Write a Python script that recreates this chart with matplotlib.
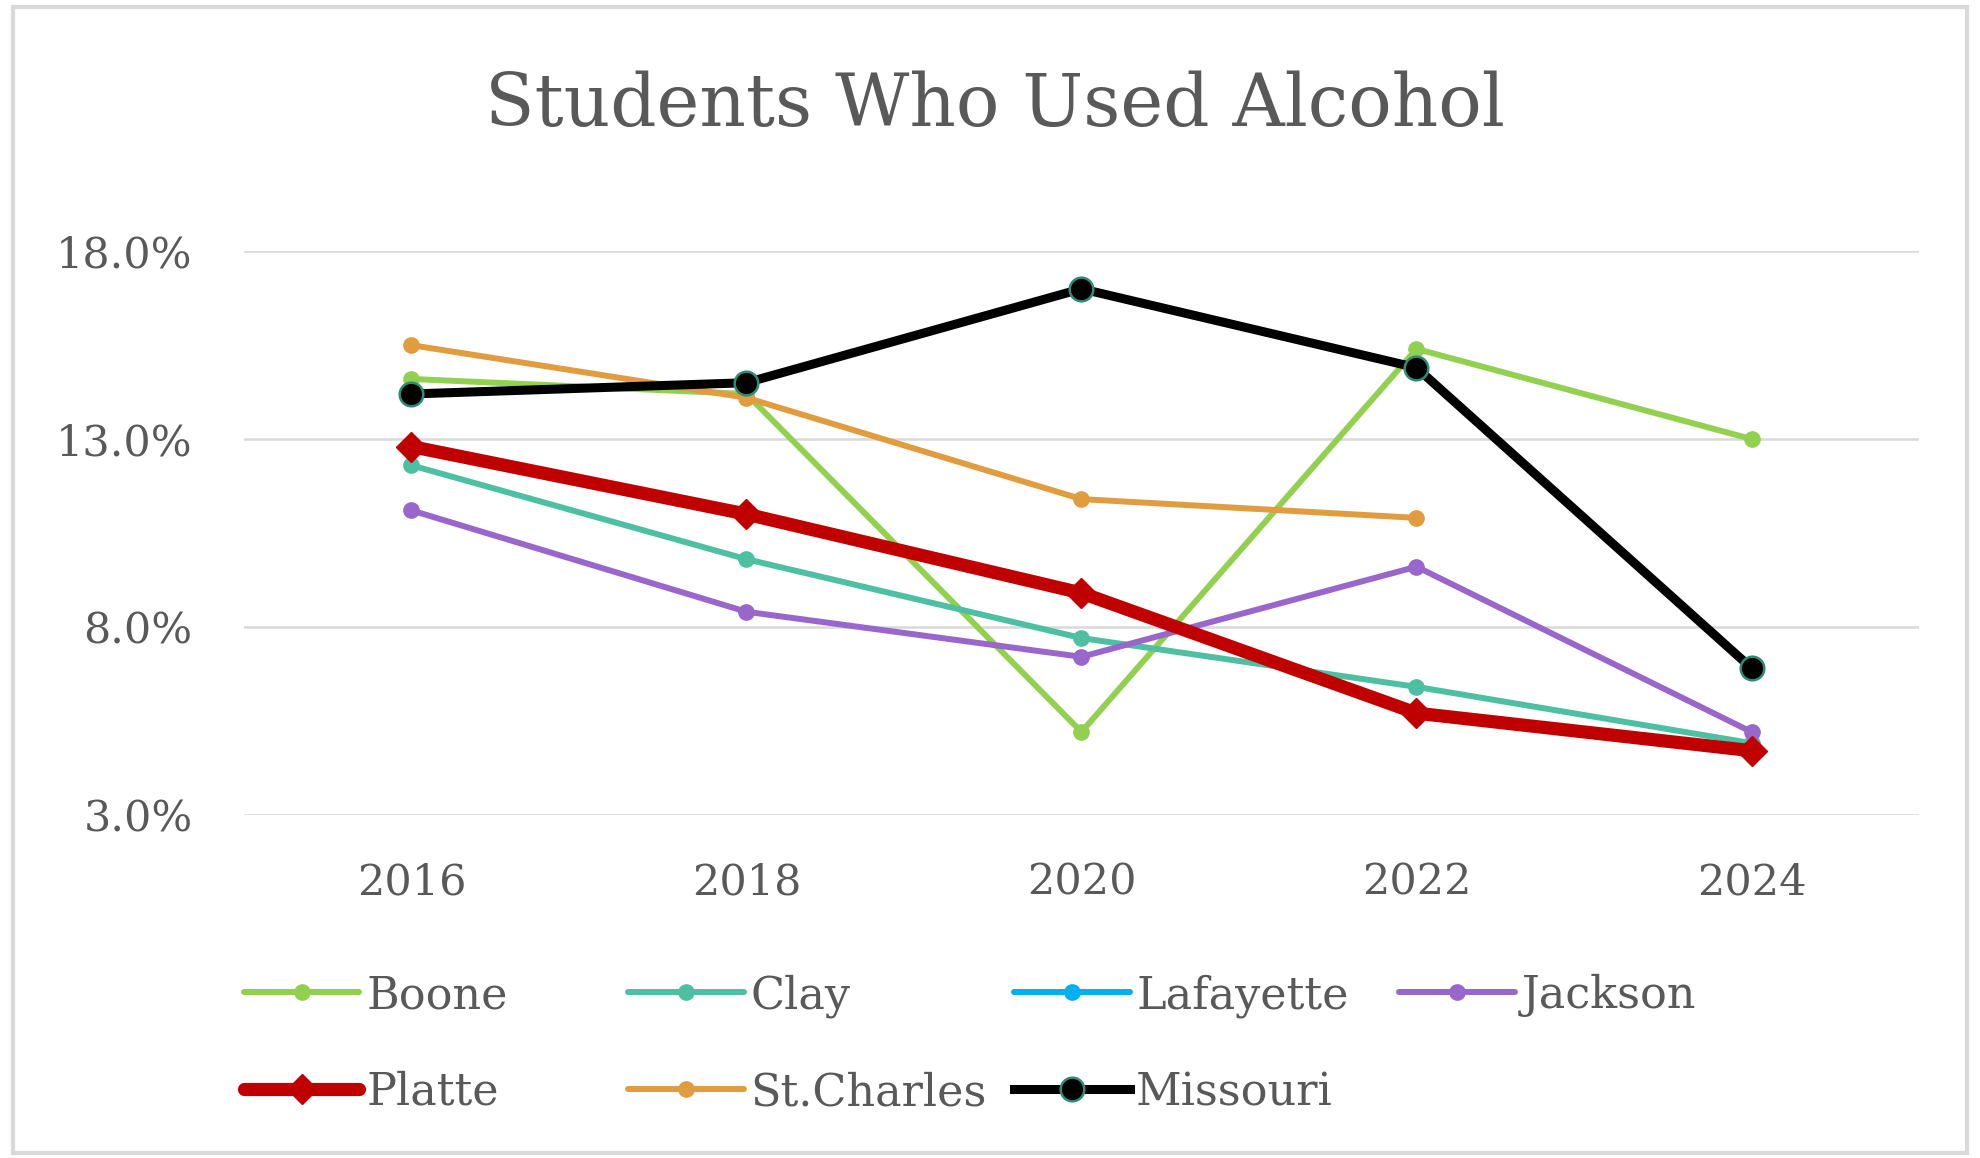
import numpy as np
import matplotlib
matplotlib.use("Agg")
import matplotlib.pyplot as plt
from matplotlib.patches import Rectangle

years = ["2016", "2018", "2020", "2022", "2024"]

boone = [14.6, 14.2, 5.2, 15.4, 13.0]
clay = [12.3, 9.8, 7.7, 6.4, 4.9]
lafayette = [np.nan, np.nan, np.nan, np.nan, np.nan]
jackson = [11.1, 8.4, 7.2, 9.6, 5.2]
platte = [12.8, 11.0, 8.9, 5.7, 4.7]
st_charles = [15.5, 14.1, 11.4, 10.9, np.nan]
missouri = [14.2, 14.5, 17.0, 14.9, 6.9]

y_ticks = [3.0, 8.0, 13.0, 18.0]

TEXT = "#595959"
plt.rcParams['font.family'] = ['DejaVu Serif']

fig = plt.figure(figsize=(19.8, 11.58), dpi=100)
ax = fig.add_axes([0.1232, 0.2966, 0.846, 0.4864])
x = np.arange(len(years))

# thin series
thin = dict(lw=4.3, marker='o', ms=11, solid_capstyle='round')
h_boone, = ax.plot(x, boone, color='#92D050', label='Boone', **thin)
h_clay, = ax.plot(x, clay, color='#4DBFA2', label='Clay', **thin)
h_laf, = ax.plot(x, lafayette, color='#00B0F0', label='Lafayette', **thin)
h_jack, = ax.plot(x, jackson, color='#9966CC', label='Jackson', **thin)
h_platte, = ax.plot(x, platte, color='#C00000', lw=9.5, marker='D', ms=15,
                    label='Platte', solid_capstyle='round')
h_stc, = ax.plot(x, st_charles, color='#E09C3E', label='St.Charles', **thin)
h_mo, = ax.plot(x, missouri, color='black', lw=6.5, marker='o', ms=17,
                markerfacecolor='black', markeredgecolor='#2E8B77',
                markeredgewidth=1.8, label='Missouri')

for h in ax.lines:
    h.set_clip_on(False)

ax.set_xlim(-0.5, 4.5)
ax.set_ylim(3, 18)
ax.set_xticks(x)
ax.set_xticklabels(years)
ax.set_yticks(y_ticks)
ax.set_yticklabels([f"{v:.1f}%" for v in y_ticks])
ax.tick_params(axis='both', length=0, labelsize=31, colors=TEXT)
ax.tick_params(axis='y', pad=37)
ax.tick_params(axis='x', pad=34)
ax.grid(axis='y', color='#D9D9D9', lw=1.8)
ax.set_axisbelow(True)
for s in ax.spines.values():
    s.set_visible(False)

fig.text(0.5025, 0.891, "Students Who Used Alcohol", ha='center', va='baseline',
         fontsize=52, color=TEXT)

# legend: one legend per column so columns are evenly spaced like Excel
columns = [[h_boone, h_platte], [h_clay, h_stc], [h_laf, h_mo], [h_jack]]
col_x = [0.1232, 0.3172, 0.5121, 0.7066]
for hs, cx in zip(columns, col_x):
    leg = fig.legend(handles=hs, loc='upper left', bbox_to_anchor=(cx, 0.159),
                     frameon=False, fontsize=32, labelcolor=TEXT,
                     handlelength=2.6, handletextpad=0.15, borderpad=0,
                     borderaxespad=0, labelspacing=1.2)
    for lh in leg.legend_handles:
        lh.set_clip_on(False)

fig.patches.append(Rectangle((0.0065, 0.004), 0.987, 0.99, transform=fig.transFigure,
                             fill=False, edgecolor='#D9D9D9', lw=3))

fig.savefig("out.png", dpi=100)
